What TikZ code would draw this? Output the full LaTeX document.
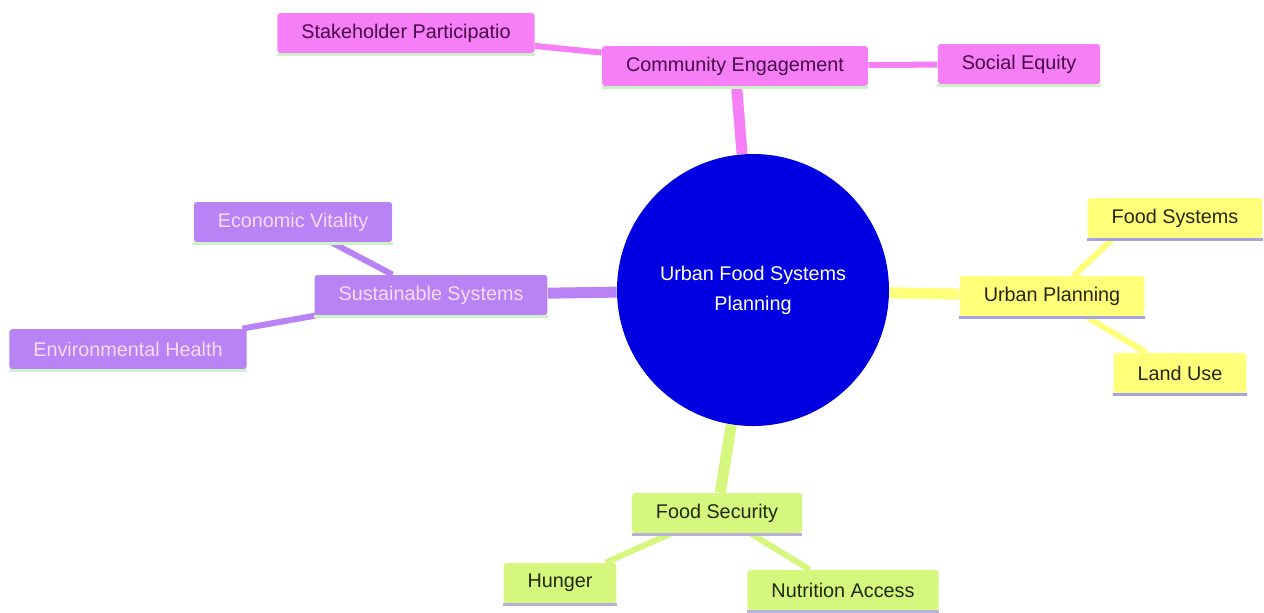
\documentclass[tikz,border=0pt]{standalone}
\usepackage{fontspec}
\setmainfont{Liberation Sans}
\usetikzlibrary{backgrounds}

\definecolor{rootblue}{HTML}{0000E0}
\definecolor{pinkfill}{HTML}{F67EF6}
\definecolor{pinktext}{HTML}{470A47}
\definecolor{yellowfill}{HTML}{FFFF7A}
\definecolor{yellowtext}{HTML}{26260A}
\definecolor{purplefill}{HTML}{B982F5}
\definecolor{purpletext}{HTML}{F5DDF5}
\definecolor{greenfill}{HTML}{D6F77E}
\definecolor{greentext}{HTML}{1E2A05}
\definecolor{mintline}{HTML}{CDF2C8}
\definecolor{lavline}{HTML}{A3A3E3}
\definecolor{greyline}{HTML}{B8B0D8}

\tikzset{
	mapnode/.style={rounded corners=1.5pt, minimum height=20pt, inner xsep=12pt, inner ysep=0pt, font=\fontsize{9.9}{12}\selectfont},
	pinknode/.style={mapnode, fill=pinkfill, text=pinktext},
	yellownode/.style={mapnode, fill=yellowfill, text=yellowtext},
	purplenode/.style={mapnode, fill=purplefill, text=purpletext},
	greennode/.style={mapnode, fill=greenfill, text=greentext},
	rootnode/.style={circle, fill=rootblue, text=white, minimum size=136pt, inner sep=0pt, align=center, font=\fontsize{9.9}{15}\selectfont},
	branch/.style={line width=5.5pt},
	twig/.style={line width=3pt},
	underline/.style={line width=1.5pt}
}

\begin{document}
\begin{tikzpicture}[x=0.5pt, y=-0.5pt]
			%%%%% START %%%%%
			\useasboundingbox (0, 0) rectangle (1264, 612);
			
			\node[rootnode] (root) at (753, 290) {Urban Food Systems\\Planning};
			
			\node[pinknode] (comm) at (735, 66) {Community Engagement};
			\node[pinknode] (stake) at (406, 33) {Stakeholder Participatio};
			\node[pinknode] (equity) at (1019, 64) {Social Equity};
			
			\node[yellownode] (urban) at (1052, 296) {Urban Planning};
			\node[yellownode] (fsys) at (1175, 218) {Food Systems};
			\node[yellownode] (land) at (1180, 373) {Land Use};
			
			\node[purplenode] (sust) at (431, 295) {Sustainable Systems};
			\node[purplenode] (econ) at (293, 222) {Economic Vitality};
			\node[purplenode] (env) at (128, 349) {Environmental Health};
			
			\node[greennode] (secur) at (717, 513) {Food Security};
			\node[greennode] (hunger) at (560, 583) {Hunger};
			\node[greennode] (nutri) at (843, 590) {Nutrition Access};
			
			% underlines
			\foreach \n/\c in {comm/mintline, stake/mintline, equity/mintline, sust/mintline, econ/mintline, env/mintline,
				urban/lavline, fsys/lavline, land/lavline, secur/greyline, hunger/greyline, nutri/greyline}
				\draw[underline, \c] ([yshift=-0.75pt]\n.south west) -- ([yshift=-0.75pt]\n.south east);
			
			% edges
			\begin{scope}[on background layer]
				\fill[white] (0, 0) rectangle (1264, 612);
				\draw[branch, pinkfill] (root) -- (comm);
				\draw[branch, yellowfill] (root) -- (urban);
				\draw[branch, purplefill] (root) -- (sust);
				\draw[branch, greenfill] (root) -- (secur);
				
				\draw[twig, pinkfill] (comm) -- (stake);
				\draw[twig, pinkfill] (comm) -- (equity);
				\draw[twig, yellowfill] (urban) -- ([xshift=-20pt]fsys.center);
				\draw[twig, yellowfill] (urban) -- (land);
				\draw[twig, purplefill] (sust) -- (econ);
				\draw[twig, purplefill] (sust) -- (env);
				\draw[twig, greenfill] (secur) -- (hunger);
				\draw[twig, greenfill] (secur) -- (nutri);
			\end{scope}
			%%%%% END %%%%%
\end{tikzpicture}
\end{document}
